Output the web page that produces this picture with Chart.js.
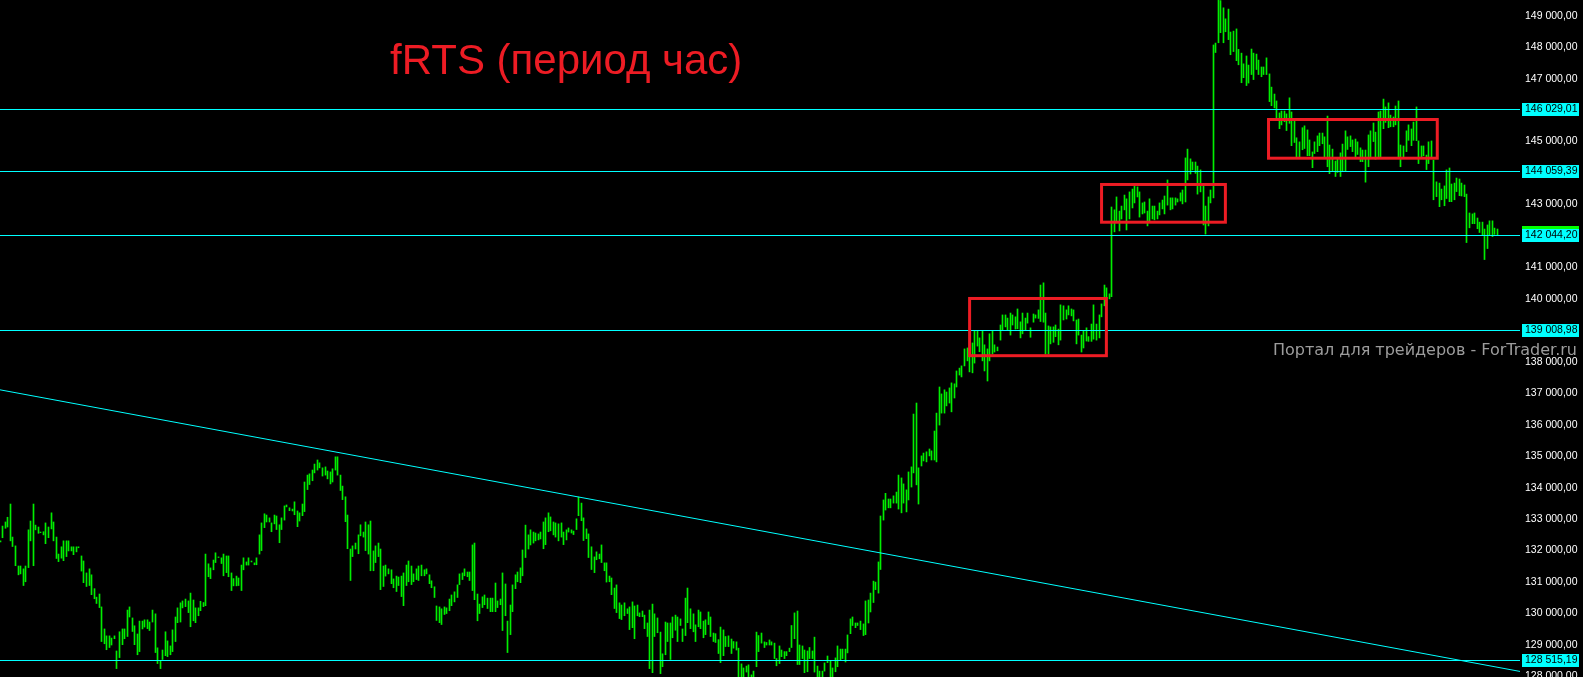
<!DOCTYPE html>
<html>
<head>
<meta charset="utf-8">
<script src="https://cdn.jsdelivr.net/npm/chart.js@4"></script>
<style>
  html, body { margin: 0; padding: 0; background: #000; overflow: hidden; }
  canvas { display: block; }
</style>
</head>
<body>
<canvas id="chart" width="1583" height="677"></canvas>
<script>
// hourly bars left to right (high / low)
let highs = [
  132310,132780,132910,133060,133480,132430,132150,131510,131510,131420,
  131510,132660,132940,133480,132810,132750,132590,132600,132880,132750,
  133200,132910,132430,131890,132120,132310,132310,132310,132120,132120,
  132120,132120,131830,131670,131290,131420,131230,130790,130520,130620,
  130210,129510,129290,129290,129220,129290,128810,129420,129510,129510,
  130110,130210,129860,129610,129350,129760,129760,129800,129800,129730,
  130110,129990,128910,128500,128840,129420,129130,128970,129480,129890,
  130180,130340,130400,130460,130400,130650,130430,130180,130180,
  130390,130350,131890,131580,131450,131700,131930,131800,131770,131890,
  131830,131830,131290,131110,131190,131130,131540,131770,131640,131770,
  131670,131610,131770,132500,132880,133170,133130,133040,132880,133130,
  133100,132820,133040,133420,133450,133360,133320,133550,133260,133200,
  133480,134180,134400,134440,134560,134750,134880,134790,134630,134660,
  134530,134500,134600,134980,134980,134400,134050,133710,133130,132050,
  132150,132240,132500,132820,132590,132910,132820,132940,131990,132150,
  132240,132050,131510,131540,131420,131390,131100,131190,131160,131190,
  131290,131540,131670,131510,131260,131420,131510,131540,131390,131420,
  131230,131040,130850,130240,130210,130150,130210,
  130180,130460,130590,130690,130910,131260,131290,131420,131320,131320,
  132180,132240,130620,130300,130530,130590,130490,130490,130490,130970,
  130400,130460,131290,130940,129760,130270,130910,131230,131320,131450,
  132020,132810,132500,132660,132590,132560,132530,132590,132910,133040,
  133200,133070,132910,132880,132850,132880,132590,132660,132720,132660,
  132620,133010,133700,133510,133040,132690,132530,132120,131800,131960,
  131890,132180,131610,131610,131190,131130,130810,130910,130340,130270,
  130340,130150,130210,130370,130240,130270,130020,130080,129950,129700,
  130110,130300,129990,129860,129410,128720,129730,129700,129700,129890,
  129950,129890,129830,129510,130490,130810,
  130150,129990,129640,130110,130050,129760,129800,130050,129890,129380,
  129360,129170,129570,129480,129270,129290,129190,129110,129100,128900,
  128400,128270,128330,128370,128050,128170,129410,129300,129380,129100,
  129080,129160,129100,129060,128570,128970,128840,128790,128790,128900,
  129620,130020,130080,129000,128970,128840,128810,128920,128810,129250,
  128330,128170,128170,128430,128650,128500,128270,128590,128970,128870,
  128870,128870,129320,129830,129890,129700,129700,129760,129670,130400,
  130430,130650,131030,131000,131640,133100,133610,
  133820,133640,133640,133740,133860,134400,134310,134120,133930,134500,
  134660,136340,136690,134630,135010,135100,135140,135230,135170,135800,
  136370,137200,136980,137110,137040,137170,137330,137300,137710,137800,
  137870,138410,138440,138410,138600,138980,138980,138760,138980,138540,
  138410,138890,138980,138540,138470,
  139170,139490,139490,139390,139550,139490,139430,139680,139270,139550,
  139390,139550,139080,139520,139490,139650,140440,140510,139550,139140,
  139110,139110,139170,139040,139810,139780,139650,139780,139680,139650,
  139330,139360,138850,138980,139080,138800,139200,139810,139200,139490,
  139840,140440,140350,140160,142920,
  142830,143240,142790,142950,143300,143180,143400,143490,143590,143560,
  143400,143050,143080,142790,143180,142950,142950,142790,143050,143140,
  143270,143780,143210,143210,143210,143180,143370,143460,144480,144760,
  144450,144350,144350,144220,144100,143590,142950,143240,143460,148070,
  148130,149520,149480,149250,148900,149210,148480,148510,148580,147930,
  147810,147470,147720,147430,147940,147810,147780,147590,147370,147370,
  147660,147150,146730,146510,146290,145910,145970,145970,145880,146390,
  145940,145690,145120,144990,145440,145500,145370,145050,144670,144990,
  145180,145270,145270,145150,145810,144890,144760,144380,144450,144640,
  144920,145340,145150,145180,145050,145080,144990,144800,144730,144730,
  145210,145340,145590,145300,145940,145970,146350,146100,146230,145840,
  145780,146130,146290,144890,144860,145340,145530,145400,145620,146100,
  145020,144860,144860,144570,144990,145020,144410,143720,143680,143490,
  143590,144100,144160,143650,143680,143840,143810,143680,143620,143330,
  142730,142700,142730,142570,142440,
  142440,142220,142350,142480,142480,142250,142220
]

let lows = [
  132280,132410,132710,132750,132310,132130,131520,131230,131260,130890,
  131010,131460,132310,131520,132660,132550,132570,132500,132220,132410,
  132690,132310,131750,131650,131760,131680,131810,131990,131990,131870,
  131960,132090,131350,130980,130860,130890,130600,130470,130320,130190,
  129110,129040,128850,128920,129000,129200,128250,128600,129010,129200,
  129270,129890,129430,129010,128690,128790,129510,129570,129520,129460,
  129730,128760,128410,128250,128540,128660,128630,128690,128790,129110,
  129710,129730,130180,130220,130030,129580,129770,129710,129930,
  130090,130220,130250,131170,131110,131390,131620,131780,131590,131200,
  131300,131170,130730,130880,130880,130890,130730,131390,131540,131540,
  131640,131550,131550,131890,132000,132730,132910,132910,132600,132850,
  132670,132250,132670,132970,133390,133270,133260,133140,132760,132940,
  133110,133240,133940,134100,134220,134470,134560,134630,134370,134400,
  134280,134120,134180,134560,134400,133910,133620,132920,132060,131050,
  131810,132050,131900,132470,132430,132000,131890,131360,131360,131620,
  131810,130760,130860,131190,131260,130950,130820,130700,130890,130540,
  130250,130890,131010,130920,131010,131080,131050,131200,131200,131260,
  130950,130820,130510,129780,129710,129650,129970,
  130000,130090,130250,130370,130510,130920,131080,131200,131170,131050,
  130730,130440,129770,130000,130190,130280,130160,130060,130060,130060,
  130190,130280,129460,129930,128760,129330,130060,130790,131010,130980,
  131200,131780,132050,132180,132240,132310,132340,132370,132060,132190,
  132600,132630,132500,132430,132310,132430,132190,132340,132590,132560,
  132510,132670,133110,132950,132320,132380,131780,131400,131300,131710,
  131740,131620,131360,131000,131010,130600,130160,130030,129840,129810,
  129930,130000,129490,129550,129200,129930,129900,129900,129520,129270,
  128250,128120,129270,129390,128090,128310,128690,129110,128540,129230,
  129470,129110,129620,129110,129300,129710,
  129520,129420,129110,129580,129520,129230,129330,129650,129270,129110,
  129080,128730,128440,128660,128950,128950,128730,128900,128840,127900,
  127920,127900,128140,127900,127950,127950,128310,128790,129060,128920,
  129000,129000,129000,128570,128340,128410,128630,128570,128660,128790,
  128920,129200,128380,128380,128570,128120,128150,128570,128570,128140,
  127900,127950,127950,128170,128440,127900,127950,128150,128310,128510,
  128570,128460,128750,129360,129620,129550,129620,129490,129300,129330,
  129700,130050,130350,130760,130650,131400,132970,
  133290,133360,133360,133510,133510,133320,133200,133510,133230,133610,
  134020,134470,134090,133480,134690,134850,134820,135010,134880,134880,
  134820,135990,136370,136370,136600,136690,136410,136850,137200,137580,
  137520,137870,138030,137680,137650,137960,138500,138320,138030,137710,
  137390,138030,138250,138310,138350,
  138690,139010,139110,139010,138850,139170,139040,139050,138760,138890,
  139010,139230,138780,139260,139390,139380,139280,139260,138250,138250,
  138570,138620,138800,138540,138690,139330,139360,139490,139460,139300,
  138570,138850,138310,138440,138660,138650,138650,138720,138690,138760,
  139430,139780,139870,140000,140070,
  142130,142480,142160,142540,142830,142190,142540,142890,143050,143240,
  142600,142700,142730,142320,142480,142540,142510,142540,142670,142860,
  142700,142980,142830,142860,142980,143080,143110,143020,143080,143780,
  143970,144100,143990,143330,143400,142350,142060,142320,143050,143210,
  147830,148140,148460,148140,148490,148240,147760,147860,147570,147440,
  146870,147030,146780,146860,147130,146970,147290,147130,147060,147130,
  147130,146270,146140,146070,145690,145410,145530,145630,145350,145580,
  144870,144970,144520,144520,144740,144780,144550,144550,144170,144620,
  144680,144870,144930,144520,144200,143980,144070,143890,144020,143890,
  144050,144050,144750,144840,144680,144520,144590,144360,144360,143710,
  144200,144520,145000,144440,144520,144520,145410,145610,145440,145470,
  145470,145530,144520,144200,144520,144680,145040,144870,145040,145030,
  144300,144520,144550,144110,144300,144490,143150,143250,142930,143150,
  142960,143190,143090,143090,143150,143410,143280,143270,143250,141790,
  142260,142390,142390,142230,142110,
  142030,141250,141600,142010,141980,142050,142010
]

// horizontal levels drawn on the chart (cyan)
let levels = [146029.01, 144059.39, 142044.20, 139008.98, 128515.19]
let lastPrice = 142130

// price axis tick labels (the ones hidden behind level tags are left out)
let yTicks = [149000,148000,147000,145000,143000,141000,140000,138000,137000,136000,
  135000,134000,133000,132000,131000,130000,129000,128000]
let yMin = 127983, yMax = 149499
let slotCount = 599

// trendline: [bar index, price]
let trendFrom = [-0.1, 137110]
let trendTo = [598.9, 128160]

// red boxes: [from bar, to bar, top price, bottom price]
let boxes = [
  [382.0, 435.9, 140013, 138195],
  [434.0, 482.8, 143636, 142437],
  [499.8, 566.3, 145701, 144471]
]

let title = "fRTS (период час)"
let watermark = "Портал для трейдеров - ForTrader.ru"

let barColor = "#00ee00"
let cyan = "#00ffff"
let red = "#ed1c24"

function fmt(v) {
  let parts = Number(v).toFixed(2).split(".")
  return parts[0].replace(/\B(?=(\d{3})+(?!\d))/g, " ") + "," + parts[1]
}

let bars = highs.map((h, i) => ({ x: i, y: [lows[i], h] }))

// keep 1px bars sharp
let snapBars = {
  id: "snapBars",
  beforeDatasetsDraw(chart) {
    chart.getDatasetMeta(0).data.forEach(el => { el.x = Math.floor(el.x) + 0.5 })
  }
}

let overlay = {
  id: "overlay",
  afterDatasetsDraw(chart) {
    let ctx = chart.ctx, a = chart.chartArea
    let xs = chart.scales.x, ys = chart.scales.y
    ctx.save()
    ctx.strokeStyle = cyan
    ctx.lineWidth = 1
    levels.forEach(v => {
      let py = Math.round(ys.getPixelForValue(v)) + 0.5
      ctx.beginPath()
      ctx.moveTo(a.left, py)
      ctx.lineTo(a.right, py)
      ctx.stroke()
    })
    ctx.beginPath()
    ctx.moveTo(xs.getPixelForValue(trendFrom[0]), ys.getPixelForValue(trendFrom[1]))
    ctx.lineTo(xs.getPixelForValue(trendTo[0]), ys.getPixelForValue(trendTo[1]))
    ctx.stroke()

    ctx.strokeStyle = red
    ctx.lineWidth = 3
    boxes.forEach(b => {
      let x0 = xs.getPixelForValue(b[0]), x1 = xs.getPixelForValue(b[1])
      let y0 = ys.getPixelForValue(b[2]), y1 = ys.getPixelForValue(b[3])
      ctx.strokeRect(x0, y0, x1 - x0, y1 - y0)
    })
    ctx.restore()
  },
  afterDraw(chart) {
    let ctx = chart.ctx, a = chart.chartArea, ys = chart.scales.y
    ctx.save()
    ctx.font = '10.5px "Liberation Sans"'
    ctx.textBaseline = "middle"
    ctx.textAlign = "left"
    // current price tag sits behind the level tag
    let pl = Math.round(ys.getPixelForValue(lastPrice))
    ctx.fillStyle = "#00ff00"
    ctx.fillRect(a.right + 2, pl - 6, 57, 12)
    levels.forEach(v => {
      let py = Math.round(ys.getPixelForValue(v))
      ctx.fillStyle = cyan
      ctx.fillRect(a.right + 2, py - 6, 57, 13)
      ctx.fillStyle = "#000"
      ctx.fillText(fmt(v), a.right + 5, py + 0.5)
    })

    ctx.fillStyle = red
    ctx.font = '42px "Liberation Sans"'
    ctx.textBaseline = "alphabetic"
    ctx.fillText(title, 390, 74)

    ctx.fillStyle = "#9c9c9c"
    ctx.font = '16px "DejaVu Sans"'
    ctx.textAlign = "right"
    ctx.fillText(watermark, 1577, 355)
    ctx.restore()
  }
}

new Chart(document.getElementById("chart"), {
  type: "bar",
  data: {
    datasets: [{
      data: bars,
      backgroundColor: barColor,
      borderWidth: 0,
      barThickness: 1,
      grouped: false
    }]
  },
  options: {
    responsive: false,
    animation: false,
    devicePixelRatio: 1,
    layout: { padding: 0 },
    plugins: { legend: { display: false }, tooltip: { enabled: false } },
    scales: {
      x: { type: "linear", min: -0.1, max: slotCount - 0.1, offset: false, display: false },
      y: {
        position: "right",
        min: yMin,
        max: yMax,
        grid: { display: false, drawTicks: false },
        border: { display: false },
        afterBuildTicks: s => { s.ticks = yTicks.map(v => ({ value: v })) },
        afterFit: s => { s.width = 63; s.paddingTop = 0; s.paddingBottom = 0 },
        ticks: {
          color: "#ffffff",
          font: { family: "Liberation Sans", size: 10.5 },
          padding: 5,
          autoSkip: false,
          callback: v => fmt(v)
        }
      }
    }
  },
  plugins: [snapBars, overlay]
})
</script>
</body>
</html>
